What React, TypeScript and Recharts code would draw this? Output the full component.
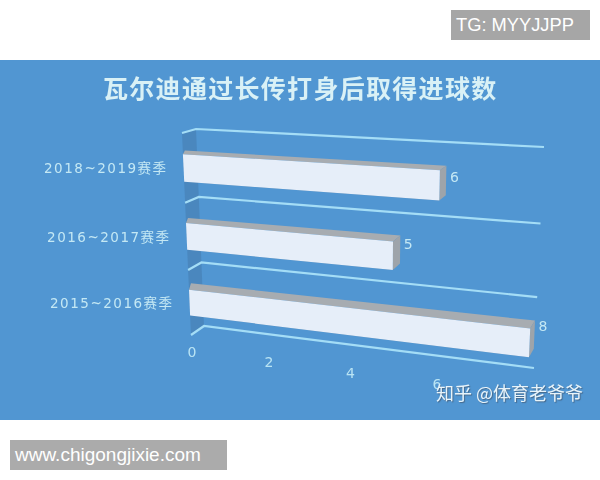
import React from "react";
import { BarChart, Bar, XAxis, YAxis, CartesianGrid, LabelList } from "recharts";

const seasons = ["2018~2019赛季", "2016~2017赛季", "2015~2016赛季"];
const goals = [6, 5, 8];
const valueTicks = [0, 2, 4, 6];
const chartTitle = "瓦尔迪通过长传打身后取得进球数";

const chartData = seasons.map((season, i) => ({ season, goals: goals[i] }));

// flat plot area, the drawing below maps it onto the tilted planes
const PLOT = { left: 100, top: 100, width: 440, height: 280 };
const BAND_COUNT = seasons.length;
const BAR_DEPTH = 0.8;

type Pt = [number, number];

const squareToQuad = (q: Pt[]) => {
    const [[x0, y0], [x1, y1], [x2, y2], [x3, y3]] = q;
    const dx1 = x1 - x2, dx2 = x3 - x2, sx = x0 - x1 + x2 - x3;
    const dy1 = y1 - y2, dy2 = y3 - y2, sy = y0 - y1 + y2 - y3;
    const den = dx1 * dy2 - dx2 * dy1;
    const g = (sx * dy2 - dx2 * sy) / den;
    const h = (dx1 * sy - sx * dy1) / den;
    const a = x1 - x0 + g * x1, b = x3 - x0 + h * x3;
    const d = y1 - y0 + g * y1, e = y3 - y0 + h * y3;
    return (u: number, v: number): Pt => {
        const w = g * u + h * v + 1;
        return [(a * u + b * v + x0) / w, (d * u + e * v + y0) / w];
    };
};

// corners: top left, top right, bottom right, bottom left
const frontPlane = squareToQuad([[182, 133], [538, 152.5], [528, 379], [191, 335]]);
const backPlane = squareToQuad([[196, 129], [544, 147], [534, 368], [204, 326]]);

const toU = (x: number) => (x - PLOT.left) / PLOT.width;
const toV = (y: number) => (y - PLOT.top) / PLOT.height;

const at = (u: number, v: number, depth: number): Pt => {
    const f = frontPlane(u, v);
    const b = backPlane(u, v);
    return [f[0] + (b[0] - f[0]) * depth, f[1] + (b[1] - f[1]) * depth];
};

const pts = (list: Pt[]) => list.map((p) => `${p[0].toFixed(1)},${p[1].toFixed(1)}`).join(" ");

const Box = (props: any) => {
    const { x, y, width, height } = props;
    const u0 = toU(x), u1 = toU(x + width), v0 = toV(y), v1 = toV(y + height);
    // the far left corner of the top face stays close to the front edge
    const farLeft: Pt = [at(u0, v0, 0)[0] + 2, at(u0, v0, BAR_DEPTH)[1]];
    return (
        <g>
            <polygon points={pts([at(u0, v1, 0), at(u1, v1, 0), at(u1, v1, 0.15), at(u0, v1, 0.5)])} fill="#3f78ab" />
            <polygon points={pts([at(u0, v0, 0), at(u1, v0, 0), at(u1, v0, BAR_DEPTH), farLeft])} fill="#a7acb1" />
            <polygon points={pts([at(u1, v0, 0), at(u1, v1, 0), at(u1, v1, BAR_DEPTH), at(u1, v0, BAR_DEPTH)])} fill="#9ea4aa" />
            <polygon points={pts([at(u0, v0, 0), at(u1, v0, 0), at(u1, v1, 0), at(u0, v1, 0)])} fill="#e6eef9" />
        </g>
    );
};

const GridLine = (props: any) => {
    const v = toV(props.y1);
    const next = v + 1 / BAND_COUNT;
    return (
        <g key={props.key}>
            {next <= 1.001 && (
                <polygon points={pts([at(0, v, 0), at(0, v, 1), at(0, next, 1), at(0, next, 0)])} fill="#4a87be" />
            )}
            <polyline
                points={pts([at(0, v, 0), at(0, v, 1), at(1, v, 1)])}
                fill="none"
                stroke="#a4ddf6"
                strokeWidth={2.2}
            />
        </g>
    );
};

const SeasonTick = (props: any) => {
    const p = at(0, toV(props.y), 0);
    return (
        <text x={p[0] - 16} y={p[1] + 5} textAnchor="end" fontSize={13.5} letterSpacing={1.5}
            fontFamily="'DejaVu Sans', 'Noto Sans CJK SC'" fill="#c4e8f4">
            {props.payload.value}
        </text>
    );
};

const ValueTick = (props: any) => {
    const p = at(toU(props.x), 1, 0);
    return (
        <text x={p[0] + 1} y={p[1] + 22} textAnchor="middle" fontSize={14}
            fontFamily="'DejaVu Sans'" fill="#b9e4f4">
            {props.payload.value}
        </text>
    );
};

const GoalLabel = (props: any) => {
    const { x, y, width, value } = props;
    const v = toV(y);
    const p = at(toU(x + width), v, BAR_DEPTH);
    return (
        <text x={p[0] + 8} y={p[1] + 17 - 8 * v} textAnchor="middle" fontSize={14}
            fontFamily="'DejaVu Sans'" fill="#c4e8f4">
            {value}
        </text>
    );
};

const App = () => {
    return (
        <div style={{ position: "absolute", left: 0, top: 0, width: 600, height: 480, background: "#fff", overflow: "hidden" }}>
            <div style={{ position: "absolute", left: 0, top: 60, width: 600, height: 360, background: "#5196d2" }} />
            <div style={{ position: "absolute", left: 0, top: 0, filter: "blur(0.4px)" }}>
                <BarChart
                    width={600}
                    height={480}
                    data={chartData}
                    layout="vertical"
                    barCategoryGap="30%"
                    margin={{ top: 100, right: 60, bottom: 60, left: 40 }}>
                    <CartesianGrid
                        vertical={false}
                        horizontal={GridLine}
                        horizontalCoordinatesGenerator={({ offset }: any) =>
                            [0, 1, 2, 3].map((i) => offset.top + (i * offset.height) / BAND_COUNT)
                        }
                    />
                    <XAxis type="number" domain={[0, 8]} ticks={valueTicks} height={40} axisLine={false} tickLine={false} interval={0} tick={ValueTick} />
                    <YAxis type="category" dataKey="season" width={60} axisLine={false} tickLine={false} interval={0} tick={SeasonTick} />
                    <Bar dataKey="goals" shape={Box} isAnimationActive={false}>
                        <LabelList dataKey="goals" content={GoalLabel} />
                    </Bar>
                </BarChart>
            </div>
            <div style={{
                position: "absolute", left: 103, top: 70, width: 400, whiteSpace: "nowrap", filter: "blur(0.4px)",
                fontFamily: "'Noto Sans CJK SC'", fontWeight: 700, fontSize: 25, letterSpacing: 1.3, lineHeight: "34px", color: "#d9f1f6"
            }}>
                {chartTitle}
            </div>
            <div style={{
                position: "absolute", left: 436, top: 380, whiteSpace: "nowrap", filter: "blur(0.3px)",
                fontFamily: "'Noto Sans CJK SC'", fontSize: 18, lineHeight: "24px", color: "#e8f4fa", textShadow: "1px 1px 1px #46688a"
            }}>
                知乎 @体育老爷爷
            </div>
            <div style={{
                position: "absolute", left: 451, top: 10, width: 139, height: 30, background: "#a6a6a6", color: "#fff",
                fontFamily: "'Liberation Sans'", fontSize: 18.3, lineHeight: "30px", textIndent: 5, whiteSpace: "nowrap"
            }}>
                TG: MYYJJPP
            </div>
            <div style={{
                position: "absolute", left: 10, top: 440, width: 217, height: 30, background: "#ababab", color: "#fff",
                fontFamily: "'Liberation Sans'", fontSize: 19, lineHeight: "30px", textIndent: 5, whiteSpace: "nowrap"
            }}>
                www.chigongjixie.com
            </div>
        </div>
    );
};

export default App;
